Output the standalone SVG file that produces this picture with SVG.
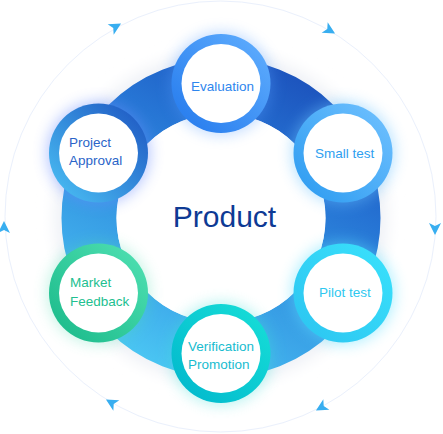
<svg xmlns="http://www.w3.org/2000/svg" width="443" height="434" viewBox="0 0 443 434">
<style>
.lbl{font-family:"Liberation Sans",Arial,sans-serif;font-size:13.5px}
.arr{fill:#38aef0}
.white{fill:#ffffff}
</style>
<defs>
<radialGradient id="halo" cx="221" cy="218" r="180" gradientUnits="userSpaceOnUse">
<stop offset="0.82" stop-color="#ebeef4"/>
<stop offset="0.9" stop-color="#f2f4f8"/>
<stop offset="1" stop-color="#ffffff" stop-opacity="0"/>
</radialGradient>
<linearGradient id="ringG" x1="300" y1="70" x2="140" y2="370" gradientUnits="userSpaceOnUse">
<stop offset="0" stop-color="#1c52bc"/>
<stop offset="0.3" stop-color="#2674d4"/>
<stop offset="0.55" stop-color="#3292e0"/>
<stop offset="0.8" stop-color="#40aeec"/>
<stop offset="1" stop-color="#4ccaf4"/>
</linearGradient>
<linearGradient id="gEval" x1="0" y1="1" x2="1" y2="0"><stop offset="0" stop-color="#2278ec"/><stop offset="1" stop-color="#62b0ff"/></linearGradient>
<linearGradient id="gSmall" x1="0" y1="1" x2="1" y2="0"><stop offset="0" stop-color="#2a9af0"/><stop offset="1" stop-color="#72c2ff"/></linearGradient>
<linearGradient id="gPilot" x1="0" y1="1" x2="1" y2="0"><stop offset="0" stop-color="#2cc4f0"/><stop offset="1" stop-color="#3ae2fc"/></linearGradient>
<linearGradient id="gVer" x1="0" y1="1" x2="1" y2="0"><stop offset="0" stop-color="#00b6cc"/><stop offset="1" stop-color="#18e0d8"/></linearGradient>
<linearGradient id="gMkt" x1="0" y1="1" x2="1" y2="0"><stop offset="0" stop-color="#18b888"/><stop offset="1" stop-color="#52e2b4"/></linearGradient>
<linearGradient id="gProj" x1="0" y1="1" x2="1" y2="0"><stop offset="0" stop-color="#4cc4f6"/><stop offset="1" stop-color="#1c52c0"/></linearGradient>
<filter id="glow" x="-50%" y="-50%" width="200%" height="200%"><feGaussianBlur stdDeviation="7"/></filter>
<filter id="soft" x="-20%" y="-20%" width="140%" height="140%"><feGaussianBlur stdDeviation="5"/></filter>
<path id="dart" d="M7,0 L-5,-6 L-2,0 L-5,6 Z"/>
</defs>
<rect width="443" height="434" fill="#ffffff"/>
<circle cx="220.5" cy="216.5" r="215.5" fill="none" stroke="#eaf0fc" stroke-width="1"/>
<circle cx="221" cy="218" r="176" fill="url(#halo)" filter="url(#soft)"/>
<circle cx="221" cy="218" r="132" fill="none" stroke="url(#ringG)" stroke-width="55"/>
<circle cx="221" cy="218" r="104.5" fill="#ffffff"/>
<g id="arrows">
<use href="#dart" class="arr" transform="translate(115,27) rotate(-30)"/>
<use href="#dart" class="arr" transform="translate(329,30) rotate(30)"/>
<use href="#dart" class="arr" transform="translate(435,228) rotate(90)"/>
<use href="#dart" class="arr" transform="translate(322,407) rotate(150)"/>
<use href="#dart" class="arr" transform="translate(112,403) rotate(210)"/>
<use href="#dart" class="arr" transform="translate(4,228) rotate(270)"/>
</g>
<text x="224.5" y="227" text-anchor="middle" font-family="Liberation Sans, Arial, sans-serif" font-size="30" fill="#0e3a94">Product</text>
<g id="n-eval">
<circle cx="221" cy="83.5" r="52" fill="#5aa0ff" opacity="0.35" filter="url(#glow)"/>
<circle cx="221" cy="83.5" r="49.5" fill="url(#gEval)"/>
<circle cx="221" cy="83.5" r="39.5" class="white"/>
<text x="191" y="91" class="lbl" fill="#2e86ee">Evaluation</text>
</g>
<g id="n-small">
<circle cx="343" cy="153" r="52" fill="#6cc4ff" opacity="0.45" filter="url(#glow)"/>
<circle cx="343" cy="153" r="49.5" fill="url(#gSmall)"/>
<circle cx="343" cy="153" r="39.5" class="white"/>
<text x="315" y="158" class="lbl" fill="#2ea0f0">Small test</text>
</g>
<g id="n-pilot">
<circle cx="343" cy="293" r="52" fill="#5ce0ff" opacity="0.45" filter="url(#glow)"/>
<circle cx="343" cy="293" r="49.5" fill="url(#gPilot)"/>
<circle cx="343" cy="293" r="39.5" class="white"/>
<text x="319" y="297" class="lbl" fill="#2ec8f0">Pilot test</text>
</g>
<g id="n-ver">
<circle cx="221" cy="353.5" r="52" fill="#40e0d8" opacity="0.35" filter="url(#glow)"/>
<circle cx="221" cy="353.5" r="49.5" fill="url(#gVer)"/>
<circle cx="221" cy="353.5" r="39.5" class="white"/>
<text x="188" y="351" class="lbl" fill="#18bccf">Verification</text>
<text x="188" y="369" class="lbl" fill="#18bccf">Promotion</text>
</g>
<g id="n-mkt">
<circle cx="98.5" cy="293" r="52" fill="#50dcb0" opacity="0.3" filter="url(#glow)"/>
<circle cx="98.5" cy="293" r="49.5" fill="url(#gMkt)"/>
<circle cx="98.5" cy="293" r="39.5" class="white"/>
<text x="70" y="287" class="lbl" fill="#22c090">Market</text>
<text x="70" y="306" class="lbl" fill="#22c090">Feedback</text>
</g>
<g id="n-proj">
<circle cx="98.5" cy="153" r="52" fill="#6a8cff" opacity="0.45" filter="url(#glow)"/>
<circle cx="98.5" cy="153" r="49.5" fill="url(#gProj)"/>
<circle cx="98.5" cy="153" r="39.5" class="white"/>
<text x="69" y="147" class="lbl" fill="#2a64c8">Project</text>
<text x="69" y="165" class="lbl" fill="#2a64c8">Approval</text>
</g>
</svg>
